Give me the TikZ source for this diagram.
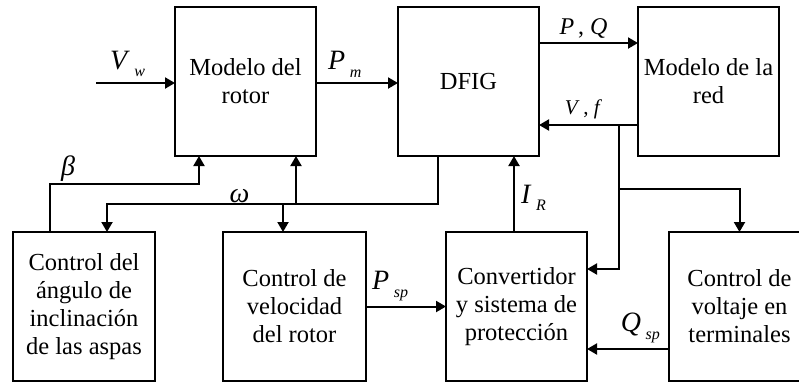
\documentclass[tikz,border=0pt]{standalone}
\usepackage{fontspec}
\setmainfont{Liberation Serif}
\usetikzlibrary{arrows.meta,calc,positioning}
\tikzset{
    dfig diagram/.style = {x=1pt, y=-1pt,
                           >={Triangle[length=10pt, width=11pt]}},
    line/.style         = {line width=2pt},
    block/.style        = {draw, line width=2pt, fill=white, align=center,
                           outer sep=0pt, minimum width=141pt,
                           minimum height=149pt,
                           font=\fontsize{24.5}{28}\selectfont},
    sig/.style          = {font=\fontsize{28}{28}\selectfont, inner sep=2pt},
    smallsig/.style     = {font=\fontsize{21}{21}\selectfont, inner sep=2pt}
}
\newcommand{\var}[2]{\textit{#1}\,\raisebox{-0.6ex}{\fontsize{16}{16}\selectfont\textit{#2}}}

\begin{document}
\begin{tikzpicture}[dfig diagram]

% Frame (the figure is cropped at the bottom and right)
\coordinate (tl) at (0,0);
\coordinate (br) at (799,381);
\useasboundingbox (tl) rectangle (br);
\clip (tl) rectangle (br);

% Upper row
\node[block] (rotor) at (245.5,81.5) {Modelo del\\rotor};
\node[block, right=82pt of rotor] (dfig) {DFIG};
\node[block, right=99pt of dfig] (red) {Modelo de la\\red};

% Lower row
\node[block, minimum width=142pt] (pitch) at (84,306.5)
    {Control del\\ángulo de\\inclinación\\de las aspas};
\node[block, minimum width=143pt, right=68pt of pitch] (speed)
    {Control de\\velocidad\\del rotor};
\node[block, right=80pt of speed] (conv)
    {Convertidor\\y sistema de\\protección};
\node[block, right=82pt of conv] (volt)
    {Control de\\voltaje en\\terminales};

% Wind and mechanical power
\coordinate (vw) at ($(rotor.west)+(-79,1.5)$);
\draw[->, line] (vw) -- (vw -| rotor.west)
    node[sig, pos=0.4, above=3pt] {\var{V}{w}};
\draw[->, line] ($(rotor.east)+(0,1.5)$) -- ($(dfig.west)+(0,1.5)$)
    node[sig, pos=0.35, above=3pt] {\var{P}{m}};

% Exchange with the grid
\coordinate (pq) at ($(dfig.east)+(0,-38.5)$);
\draw[->, line] (pq) -- (pq -| red.west)
    node[smallsig, midway, above=2pt, xshift=-5pt,
         font=\fontsize{24}{24}\selectfont] {\textit{P}\,, \textit{Q}};
\coordinate (vf) at ($(red.west)+(0,43.5)$);
\draw[->, line] (vf) -- (vf -| dfig.east)
    node[smallsig, midway, above=3pt, xshift=-5pt] {\textit{V}\,, \textit{f}};

% Grid voltage fed down to the converter and voltage control
\coordinate (split) at ($(vf)+(-19,0)$);
\coordinate (vsplit) at ($(split)+(0,64)$);
\draw[->, line] (split) |- ($(conv.east)+(0,-37.5)$);
\draw[->, line] (vsplit) -| (volt.north);

% Rotor current
\coordinate (ir) at ($(conv.north)+(-2.5,0)$);
\draw[->, line] (ir) -- (ir |- dfig.south)
    node[sig, pos=0.45, right=4pt] {\var{I}{R}};

% Rotor speed bus
\coordinate (wout) at ($(dfig.south)+(-30.5,0)$);
\coordinate (wbus) at ($(wout)+(0,48)$);
\coordinate (wpitch) at ($(pitch.north)+(23,0)$);
\coordinate (wspeed) at ($(speed.north)+(-11.5,0)$);
\coordinate (wrotor) at ($(rotor.south)+(50.5,0)$);
\draw[->, line] (wout) -- (wbus) -| (wpitch)
    node[sig, pos=0.3, above=-2pt] {\textit{ω}};
\draw[->, line] (wbus -| wspeed) -- (wspeed);
\draw[->, line] (wbus -| wrotor) -- (wrotor);

% Pitch angle
\coordinate (bout) at ($(pitch.north)+(-34,0)$);
\coordinate (bin) at ($(rotor.south)+(-46.5,0)$);
\draw[->, line] (bout) |- ($(bin)+(0,28)$)
    node[sig, pos=0.5, above right=0pt and 8pt] {\textit{β}} -- (bin);

% Set points
\draw[->, line] (speed.east) -- (conv.west)
    node[sig, pos=0.3, above=3pt] {\var{P}{sp}};
\coordinate (qsp) at ($(volt.west)+(0,42.5)$);
\draw[->, line] (qsp) -- (qsp -| conv.east)
    node[sig, pos=0.35, above=3pt] {\var{Q}{sp}};

\end{tikzpicture}
\end{document}
